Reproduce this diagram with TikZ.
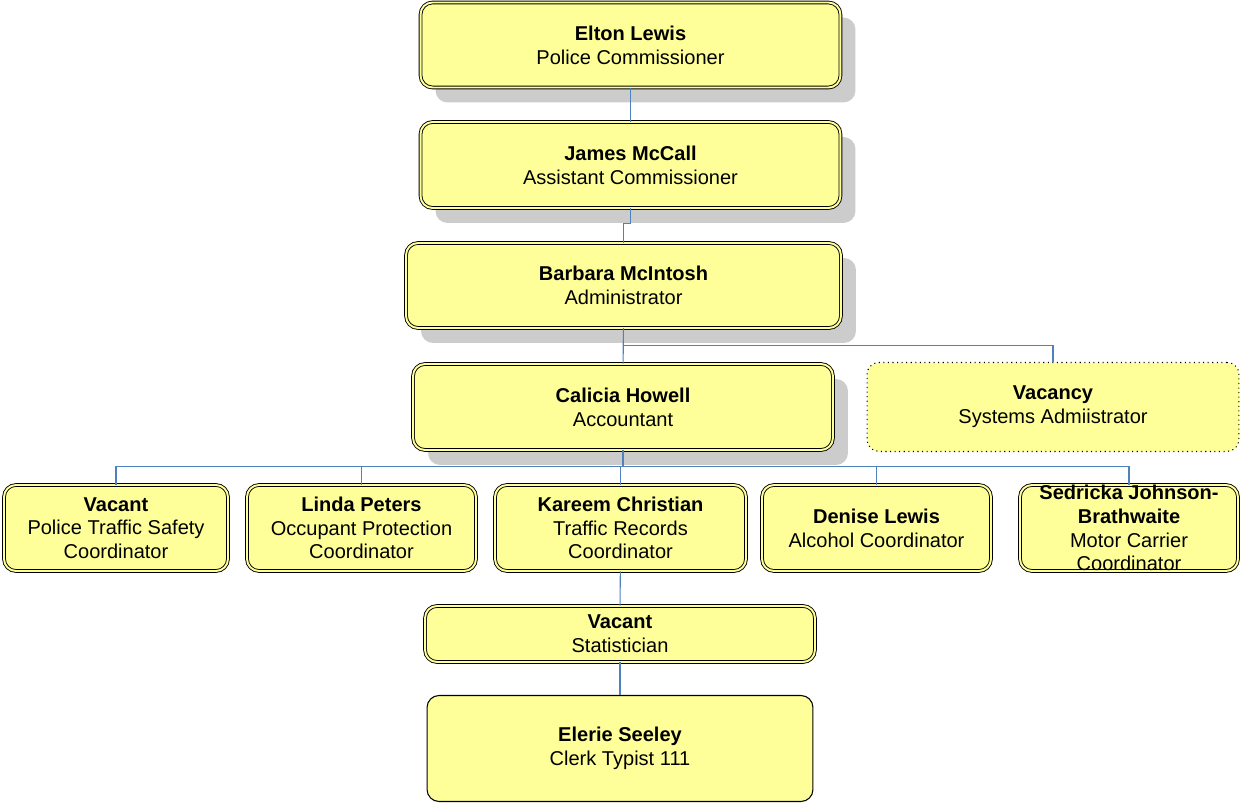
\documentclass[tikz,border=0pt]{standalone}
\usepackage{fontspec}
\setmainfont{Liberation Sans}
\usepackage{xcolor}
\usetikzlibrary{positioning,calc,shadows}
\definecolor{boxyellow}{RGB}{255,255,153}
\definecolor{linkblue}{RGB}{79,129,189}
\definecolor{shadowgray}{RGB}{204,204,204}

\begin{document}
\begin{tikzpicture}[
  x=0.02cm, y=-0.02cm,
  every node/.style={
    rectangle,
    rounded corners=0.24cm,
    fill=boxyellow,
    inner sep=0pt,
    align=center,
    font=\fontsize{11.4}{13.5}\selectfont
  },
  box/.style={
    draw=black,
    line width=0.5pt,
    double=boxyellow,
    double distance=1.1pt
  },
  shadowbox/.style={
    box,
    drop shadow={shadow xshift=0.3cm, shadow yshift=-0.3cm,
      fill=shadowgray, opacity=1}
  },
  vacantbox/.style={draw=black, line width=0.6pt, dotted},
  plainbox/.style={draw=black, line width=0.6pt},
  link/.style={draw=linkblue, line width=0.6pt}
]
  \useasboundingbox (0,0) rectangle (1242,803);

  \node[shadowbox, minimum width=8.4cm, minimum height=1.7cm] (Comm)  at (630.5,45)
    {\textbf{Elton Lewis}\\Police Commissioner};
  \node[shadowbox, minimum width=8.4cm, minimum height=1.72cm] (Asst)  at (630.5,165)
    {\textbf{James McCall}\\Assistant Commissioner};
  \node[shadowbox, minimum width=8.7cm, minimum height=1.7cm] (Admin) at (623.5,285.5)
    {\textbf{Barbara McIntosh}\\Administrator};
  \node[shadowbox, minimum width=8.4cm, minimum height=1.72cm] (Acct)  at (623,407)
    {\textbf{Calicia Howell}\\Accountant};
  \node[vacantbox, minimum width=7.44cm, minimum height=1.78cm] (Sys) at (1053,407)
    {\textbf{Vacancy}\\Systems Admiistrator};

  \node[box, minimum width=4.48cm, minimum height=1.72cm] (C1) at (116,528)
    {\textbf{Vacant}\\Police Traffic Safety\\Coordinator};
  \node[box, minimum width=4.58cm, minimum height=1.72cm] (C2) at (361.5,528)
    {\textbf{Linda Peters}\\Occupant Protection\\Coordinator};
  \node[box, minimum width=5.02cm, minimum height=1.72cm] (C3) at (620.5,528)
    {\textbf{Kareem Christian}\\Traffic Records\\Coordinator};
  \node[box, minimum width=4.58cm, minimum height=1.72cm] (C4) at (876.5,528)
    {\textbf{Denise Lewis}\\Alcohol Coordinator};
  \node[box, minimum width=4.36cm, minimum height=1.72cm] (C5) at (1129,528)
    {\textbf{Sedricka Johnson-}\\\textbf{Brathwaite}\\Motor Carrier\\Coordinator};

  \node[box, minimum width=7.8cm, minimum height=1.12cm] (Stat) at (620,634)
    {\textbf{Vacant}\\Statistician};
  \node[plainbox, minimum width=7.72cm, minimum height=2.12cm] (Clerk) at (620,748.5)
    {\textbf{Elerie Seeley}\\Clerk Typist 111};

  \draw[link] (Comm) -- (Asst);
  \draw[link] (Asst.south) -- ++(0,15) -| (Admin.north);
  \draw[link] (Admin) -- (Acct);
  \draw[link] (Admin.south) -- ++(0,17) -| (Sys.north);
  \foreach \n in {C1,C2,C3,C4,C5}
    \draw[link] (Acct.south) -- ++(0,16) -| (\n.north);
  \draw[link] (C3) -- (Stat);
  \draw[link] (Stat) -- (Clerk);

\end{tikzpicture}
\end{document}
